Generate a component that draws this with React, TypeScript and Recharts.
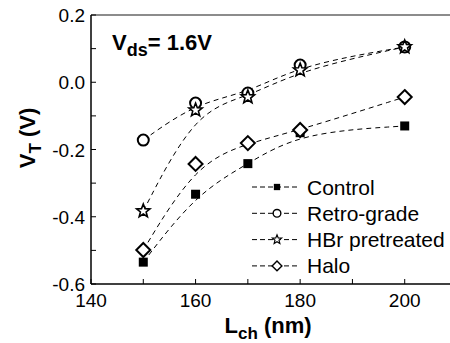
import { LineChart, Line, XAxis, YAxis, ReferenceLine } from 'recharts';

// channel lengths (nm)
const lengths = [150, 160, 170, 180, 200];

// threshold voltage V_T (V) per process
const control = [-0.535, -0.333, -0.242, -0.15, -0.13];
const retroGrade = [-0.172, -0.062, -0.032, 0.051, 0.105];
const hbrPretreated = [-0.383, -0.083, -0.044, 0.036, 0.105];
const halo = [-0.499, -0.243, -0.181, -0.142, -0.044];

const seriesNames = ['Control', 'Retro-grade', 'HBr pretreated', 'Halo'];

const xTicks = [140, 150, 160, 170, 180, 190, 200, 210];
const xTickLabels = [140, 160, 180, 200];
const yTicks = [-0.6, -0.5, -0.4, -0.3, -0.2, -0.1, 0, 0.1, 0.2];
const yTickLabels = [-0.6, -0.4, -0.2, 0, 0.2];

const FONT = 'Arial, "Liberation Sans", sans-serif';

const chartData = lengths.map((len, i) => ({
  len,
  control: control[i],
  retro: retroGrade[i],
  hbr: hbrPretreated[i],
  halo: halo[i],
}));

const starPath = (cx: number, cy: number, outer: number, inner: number) => {
  const pts: string[] = [];
  for (let i = 0; i < 10; i++) {
    const r = i % 2 === 0 ? outer : inner;
    const a = -Math.PI / 2 + (i * Math.PI) / 5;
    pts.push(`${(cx + r * Math.cos(a)).toFixed(2)},${(cy + r * Math.sin(a)).toFixed(2)}`);
  }
  return `M${pts.join('L')}Z`;
};

const Marker = ({ kind, cx, cy, small }: { kind: string; cx: number; cy: number; small?: boolean }) => {
  const s = small ? 0.7 : 1;
  if (kind === 'square') {
    const h = 4.5 * s;
    return <rect x={cx - h} y={cy - h} width={2 * h} height={2 * h} fill="#000" />;
  }
  if (kind === 'circle') {
    return <circle cx={cx} cy={cy} r={5.5 * s} fill="#fff" stroke="#000" strokeWidth={2 * s} />;
  }
  if (kind === 'star') {
    return <path d={starPath(cx, cy, 7 * s, 3 * s)} fill="#fff" stroke="#000" strokeWidth={1.6 * s} strokeLinejoin="miter" />;
  }
  const d = 7 * s;
  return (
    <path
      d={`M${cx},${cy - d}L${cx + d},${cy}L${cx},${cy + d}L${cx - d},${cy}Z`}
      fill="#fff"
      stroke="#000"
      strokeWidth={2 * s}
    />
  );
};

const dotFor = (kind: string) => (props: any) => (
  <g key={`${kind}-${props.index}`}>
    <Marker kind={kind} cx={props.cx} cy={props.cy} />
  </g>
);

const XTick = ({ x, y, payload }: any) => {
  const major = xTickLabels.includes(payload.value);
  return (
    <g>
      <line x1={x} x2={x} y1={y} y2={y - 5} stroke="#000" strokeWidth={1} />
      {major && (
        <text x={x} y={y + 23} textAnchor="middle" fontSize={19} fontFamily={FONT} fill="#000">
          {payload.value}
        </text>
      )}
    </g>
  );
};

const YTick = ({ x, y, payload }: any) => {
  const v = Math.round(payload.value * 10) / 10;
  const major = yTickLabels.some((t) => Math.abs(t - v) < 1e-6);
  return (
    <g>
      <line x1={x} x2={x + 5} y1={y} y2={y} stroke="#000" strokeWidth={1} />
      {major && (
        <text x={x - 6} y={y + 7} textAnchor="end" fontSize={19} fontFamily={FONT} fill="#000">
          {v.toFixed(1)}
        </text>
      )}
    </g>
  );
};

const kinds = ['square', 'circle', 'star', 'diamond'];

export default function App() {
  return (
    <div
      style={{
        position: 'absolute',
        left: 0,
        top: 0,
        width: 450,
        height: 343,
        overflow: 'hidden',
        background: '#fff',
        fontFamily: FONT,
      }}
    >
      <LineChart width={470} height={343} data={chartData} margin={{ top: 15, right: 13, bottom: 29, left: 31 }}>
        <XAxis
          dataKey="len"
          type="number"
          domain={[140, 210]}
          ticks={xTicks}
          interval={0}
          height={30}
          tickSize={0}
          tickMargin={0}
          tickLine={false}
          tick={<XTick />}
          axisLine={{ stroke: '#000', strokeWidth: 1.5 }}
        />
        <YAxis
          type="number"
          domain={[-0.6, 0.2]}
          ticks={yTicks}
          interval={0}
          width={60}
          tickSize={0}
          tickMargin={0}
          tickLine={false}
          tick={<YTick />}
          axisLine={{ stroke: '#000', strokeWidth: 1.5 }}
        />
        <ReferenceLine y={0.2} stroke="#666" strokeWidth={1.5} />
        <ReferenceLine x={210} stroke="#000" strokeWidth={1.5} />
        <Line
          dataKey="control"
          type="basis"
          stroke="#000"
          strokeWidth={1}
          strokeDasharray="5 4"
          dot={dotFor('square')}
          activeDot={false}
          isAnimationActive={false}
        />
        <Line
          dataKey="retro"
          type="basis"
          stroke="#000"
          strokeWidth={1}
          strokeDasharray="5 4"
          dot={dotFor('circle')}
          activeDot={false}
          isAnimationActive={false}
        />
        <Line
          dataKey="hbr"
          type="basis"
          stroke="#000"
          strokeWidth={1}
          strokeDasharray="5 4"
          dot={dotFor('star')}
          activeDot={false}
          isAnimationActive={false}
        />
        <Line
          dataKey="halo"
          type="basis"
          stroke="#000"
          strokeWidth={1}
          strokeDasharray="5 4"
          dot={dotFor('diamond')}
          activeDot={false}
          isAnimationActive={false}
        />
      </LineChart>
      <svg
        width={450}
        height={343}
        style={{ position: 'absolute', left: 0, top: 0, pointerEvents: 'none' }}
        fontFamily={FONT}
      >
        {seriesNames.map((name, i) => {
          const y = 187 + i * 26.3;
          return (
            <g key={name}>
              <line x1={252} x2={300} y1={y} y2={y} stroke="#000" strokeWidth={1} strokeDasharray="5 3" />
              <Marker kind={kinds[i]} cx={277} cy={y} small />
              <text x={307} y={y + 7.5} fontSize={21} fill="#000">
                {name}
              </text>
            </g>
          );
        })}
        <text x={112} y={50} fontSize={22} fontWeight="bold" fill="#000">
          V
          <tspan fontSize={18} dy={6}>ds</tspan>
          <tspan dy={-6}>= 1.6V</tspan>
        </text>
        <text
          transform="translate(35,138) rotate(-90)"
          textAnchor="middle"
          fontSize={22}
          fontWeight="bold"
          fill="#000"
        >
          V
          <tspan fontSize={17} dy={6}>T</tspan>
          <tspan dy={-6}> (V)</tspan>
        </text>
        <text x={268} y={333} textAnchor="middle" fontSize={22} fontWeight="bold" fill="#000">
          L
          <tspan fontSize={17} dy={6}>ch</tspan>
          <tspan dy={-6}> (nm)</tspan>
        </text>
      </svg>
    </div>
  );
}
